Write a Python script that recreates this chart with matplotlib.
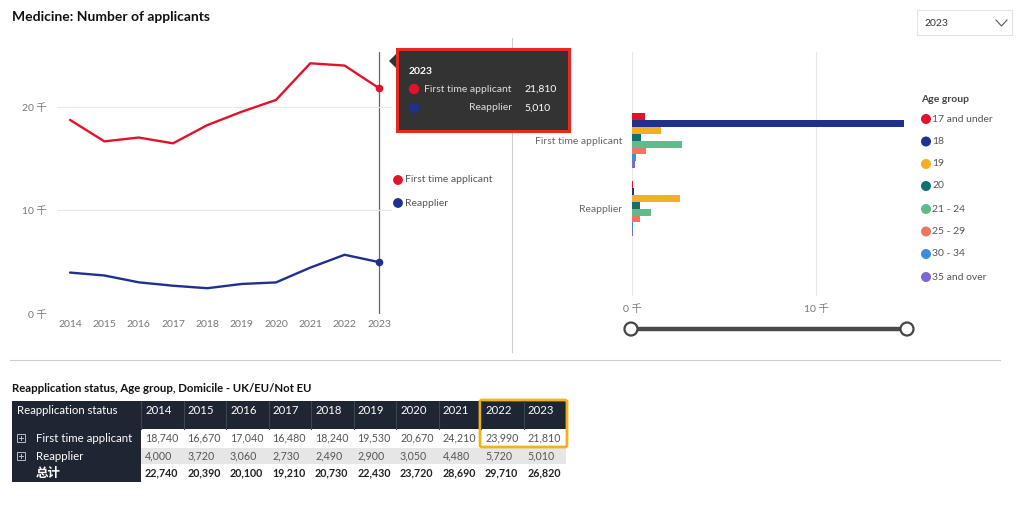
import numpy as np
import matplotlib
matplotlib.use("Agg")
import matplotlib.pyplot as plt
from matplotlib.patches import Rectangle, FancyBboxPatch, Circle, Polygon

plt.rcParams['font.family'] = ['Lato', 'Noto Sans CJK SC', 'DejaVu Sans']

# data
years = [2014, 2015, 2016, 2017, 2018, 2019, 2020, 2021, 2022, 2023]
first_time = [18740, 16670, 17040, 16480, 18240, 19530, 20670, 24210, 23990, 21810]
reapplier = [4000, 3720, 3060, 2730, 2490, 2900, 3050, 4480, 5720, 5010]
totals = [a + b for a, b in zip(first_time, reapplier)]

statuses = ['First time applicant', 'Reapplier']
age_groups = ['17 and under', '18', '19', '20', '21 - 24', '25 - 29', '30 - 34', '35 and over']
first_by_age = [710, 14780, 1600, 470, 2720, 760, 230, 180]
reap_by_age = [40, 100, 2630, 420, 1020, 440, 70, 70]

RED = '#E0122C'
NAVY = '#1F318C'
age_colors = ['#E0122C', '#1F318C', '#F4AE22', '#137072', '#5DBB8C', '#F07560', '#3A8FD9', '#8066CF']
GRID = '#e8e8e8'
TICK = '#777777'
DARK = '#1f2633'

W, H = 1024, 519
fig = plt.figure(figsize=(W / 100, H / 100), dpi=100)


def px_axes(left, top, right, bottom, **kw):
    return fig.add_axes([left / W, 1 - bottom / H, (right - left) / W, (bottom - top) / H], **kw)


# ---- line chart ----
ax1 = px_axes(57, 52, 392, 314)
ft_k = np.array(first_time) / 1000
re_k = np.array(reapplier) / 1000
ax1.plot(years, ft_k, color=RED, lw=1.7, solid_capstyle='round')
ax1.plot(years, re_k, color=NAVY, lw=1.7, solid_capstyle='round')
ax1.plot(years[-1], ft_k[-1], 'o', color=RED, ms=4.5)
ax1.plot(years[-1], re_k[-1], 'o', color=NAVY, ms=4.5)
ax1.axvline(years[-1], color='#666666', lw=0.9, zorder=0)
ax1.set_xlim(2013.62, 2023.38)
ax1.set_ylim(0, 25.3)
ax1.set_xticks(years)
ax1.set_xticklabels([str(y) for y in years])
ax1.set_yticks([0, 10, 20])
ax1.set_yticklabels(['0 千', '10 千', '20 千'])
ax1.tick_params(axis='y', length=0, pad=7, labelsize=7.5, labelcolor=TICK)
ax1.tick_params(axis='x', length=0, pad=4, labelsize=7.5, labelcolor=TICK)
ax1.grid(axis='y', color=GRID, lw=0.8)
ax1.set_axisbelow(True)
for s in ax1.spines.values():
    s.set_visible(False)

# ---- bar chart ----
ax2 = px_axes(632, 52, 910, 296)
bh = 0.1004
ypos = np.arange(len(statuses))
for i, (name, col) in enumerate(zip(age_groups, age_colors)):
    vals = np.array([first_by_age[i], reap_by_age[i]]) / 1000
    ax2.barh(ypos + (i - 3.5) * bh, vals, height=bh, color=col, label=name)
ax2.set_ylim(2.28, -1.302)
ax2.set_xlim(0, 15.1)
ax2.set_xticks([0, 10])
ax2.set_xticklabels(['0 千', '10 千'])
ax2.set_yticks(ypos)
ax2.set_yticklabels(statuses)
ax2.tick_params(axis='y', length=0, pad=7, labelsize=7.5, labelcolor='#666666')
ax2.tick_params(axis='x', length=0, pad=6, labelsize=7.5, labelcolor=TICK)
ax2.grid(axis='x', color=GRID, lw=0.8)
ax2.set_axisbelow(True)
for s in ax2.spines.values():
    s.set_visible(False)

# ---- overlay (page furniture, legends, tooltip, table) ----
ov = fig.add_axes([0, 0, 1, 1], zorder=5)
ov.set_xlim(0, W)
ov.set_ylim(H, 0)
ov.axis('off')
ov.patch.set_alpha(0)

ov.text(12, 17, 'Medicine: Number of applicants', fontsize=10, fontweight='bold', va='center', color='#111111')

# dividers
ov.plot([512, 512], [38, 352], color='#cccccc', lw=0.8, zorder=1)
ov.plot([10, 1000], [360, 360], color='#cccccc', lw=0.8, zorder=1)

# dropdown
ov.add_patch(Rectangle((917, 10), 95, 25, fc='white', ec='#e2e2e2', lw=0.8))
ov.text(924, 23, str(years[-1]), fontsize=7.5, va='center', color='#333333')
ov.plot([996, 1001.5, 1007], [20, 26, 20], color='#555555', lw=0.8)

# line legend
for yy, name, col in [(180, statuses[0], RED), (203, statuses[1], NAVY)]:
    ov.add_patch(Circle((398, yy), 4.2, color=col))
    ov.text(405, yy, name, fontsize=7.5, va='center', color='#555555')

# tooltip
ov.add_patch(Polygon([[396, 54], [389, 61], [396, 68]], closed=True, fc='#333333', ec='none', zorder=4))
ov.add_patch(Rectangle((397, 49), 172, 82, fc='#333333', ec='#E8291F', lw=2.2, zorder=4))
ov.text(409, 71, str(years[-1]), fontsize=7.5, fontweight='bold', color='white', va='center', zorder=5)
ov.add_patch(Circle((414, 89), 4.5, color=RED, zorder=5))
ov.add_patch(Circle((414, 108), 4.5, color=NAVY, zorder=5))
ov.text(512, 89, statuses[0], fontsize=7.5, color='#dddddd', va='center', ha='right', zorder=5)
ov.text(512, 108, statuses[1], fontsize=7.5, color='#dddddd', va='center', ha='right', zorder=5)
ov.text(524, 89, f'{first_time[-1]:,}', fontsize=7.5, color='white', va='center', zorder=5)
ov.text(524, 108, f'{reapplier[-1]:,}', fontsize=7.5, color='white', va='center', zorder=5)

# age legend
ov.text(921, 100, 'Age group', fontsize=7.5, fontweight='bold', color='#444444', va='center')
leg_y = [119, 141.5, 164, 186, 209, 231.5, 254, 277]
for yy, name, col in zip(leg_y, age_groups, age_colors):
    ov.add_patch(Circle((926, yy), 4.3, color=col))
    ov.text(932, yy, name, fontsize=7.5, va='center', color='#555555')

# slider
ov.plot([631, 907], [329, 329], color='#4a4a4a', lw=3.2, solid_capstyle='butt')
for xx in (631, 907):
    ov.add_patch(Circle((xx, 329), 6.5, fc='white', ec='#444444', lw=1.6, zorder=6))

# ---- table ----
ov.text(12, 388, 'Reapplication status, Age group, Domicile - UK/EU/Not EU', fontsize=8.2,
        fontweight='bold', va='center', color='#111111')
t_left, rh_right, col_w = 12, 141, 42.5
t_right = rh_right + col_w * len(years)
ov.add_patch(Rectangle((t_left, 401), t_right - t_left, 28, fc=DARK, ec='none'))
ov.add_patch(Rectangle((t_left, 429), rh_right - t_left, 53, fc=DARK, ec='none'))
ov.add_patch(Rectangle((rh_right, 448), t_right - rh_right, 16, fc='#e6e6e6', ec='none'))
ov.text(17, 411, 'Reapplication status', fontsize=8.2, color='white', va='center')
for j, yr in enumerate(years):
    cx = rh_right + j * col_w
    ov.plot([cx, cx], [401, 429], color='#3b4554', lw=0.8)
    ov.text(cx + 4, 411, str(yr), fontsize=8.2, color='white', va='center')
    ov.text(cx + 4, 438, f'{first_time[j]:,}', fontsize=7.7, color='#555555', va='center')
    ov.text(cx + 4, 456, f'{reapplier[j]:,}', fontsize=7.7, color='#555555', va='center')
    ov.text(cx + 4, 473, f'{totals[j]:,}', fontsize=7.7, color='#222222', va='center', fontweight='bold')

for yy, name in [(438, statuses[0]), (456, statuses[1])]:
    ov.add_patch(Rectangle((17, yy - 4), 8, 8, fc='none', ec='#bbbbbb', lw=0.7))
    ov.plot([19, 23], [yy, yy], color='#bbbbbb', lw=0.7)
    ov.plot([21, 21], [yy - 2, yy + 2], color='#bbbbbb', lw=0.7)
    ov.text(36, yy, name, fontsize=8.3, color='white', va='center')
ov.text(36, 473, '总计', fontsize=9, color='white', va='center', fontweight='bold')

# highlight box round last two years
hx = rh_right + (len(years) - 2) * col_w
ov.add_patch(FancyBboxPatch((hx - 1, 400), 2 * col_w + 2, 47, boxstyle='round,pad=0,rounding_size=2',
                            fc='none', ec='#F2B21B', lw=2))

fig.savefig('out.png', dpi=100, facecolor='white')
